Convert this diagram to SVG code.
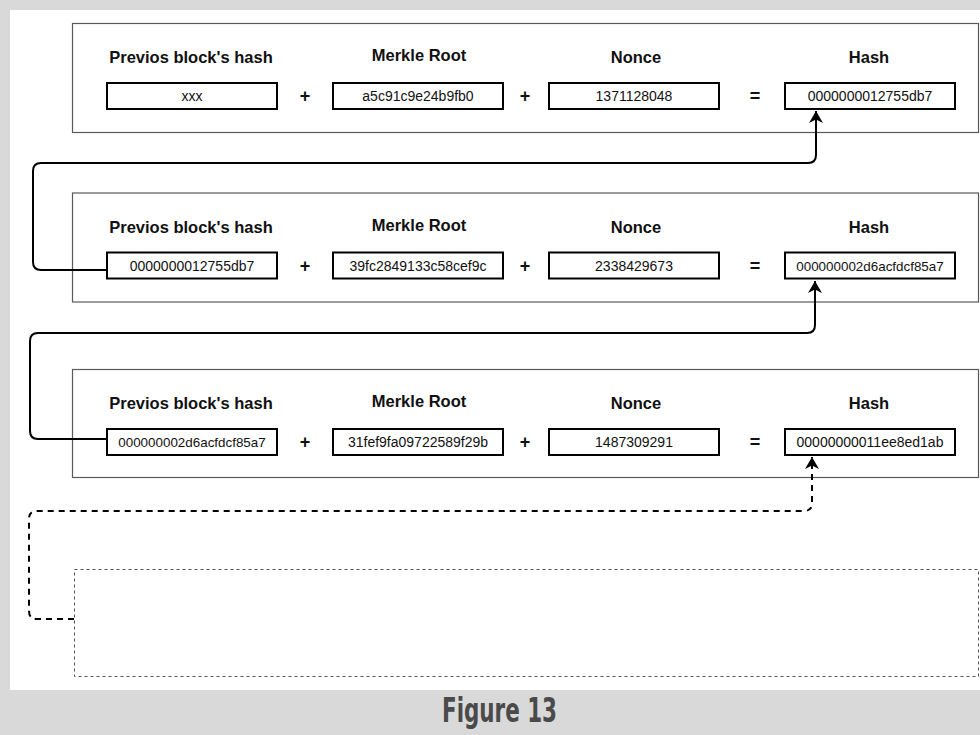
<svg xmlns="http://www.w3.org/2000/svg" width="980" height="735" viewBox="0 0 980 735">
<defs>
<style>
.blk{fill:#fff;stroke:#5a5a5a;stroke-width:1.2}
.box{fill:#fff;stroke:#000;stroke-width:2}
.hd{font-family:"Liberation Sans",Arial,Helvetica,sans-serif;font-weight:bold;font-size:16.5px;fill:#111;text-anchor:middle}
.op{font-family:"Liberation Sans",Arial,Helvetica,sans-serif;font-weight:bold;font-size:18px;fill:#111;text-anchor:middle}
.val{font-family:"Liberation Sans",Arial,Helvetica,sans-serif;font-size:14px;fill:#111;text-anchor:middle}
.sm{font-size:13.4px}
.con{fill:none;stroke:#000;stroke-width:2}
.dash{stroke-dasharray:6 5}
</style>
<marker id="arr" viewBox="0 0 12 14" refX="12" refY="7" markerWidth="12" markerHeight="14" markerUnits="userSpaceOnUse" orient="auto">
<path d="M0,0 L12,7 L0,14 L3.5,7 Z" fill="#000"/>
</marker>
</defs>
<rect x="0" y="0" width="980" height="735" fill="#d9d9d9"/>
<rect x="10" y="10" width="970" height="680" fill="#fff"/>

<g id="block1">
<rect class="blk" x="72.5" y="23.5" width="906" height="109"/>
<text class="hd" x="191" y="63">Previos block's hash</text>
<text class="hd" x="419" y="61">Merkle Root</text>
<text class="hd" x="636" y="63">Nonce</text>
<text class="hd" x="869" y="63">Hash</text>
<rect class="box" x="107" y="83" width="170" height="26"/>
<rect class="box" x="333" y="83" width="170" height="26"/>
<rect class="box" x="549" y="83" width="170" height="26"/>
<rect class="box" x="785" y="83" width="170" height="26"/>
<text class="op" x="305" y="102">+</text>
<text class="op" x="525" y="102">+</text>
<text class="op" x="755" y="102">=</text>
<text class="val" x="192" y="101">xxx</text>
<text class="val" x="418" y="101">a5c91c9e24b9fb0</text>
<text class="val" x="634" y="101">1371128048</text>
<text class="val" x="870" y="101">0000000012755db7</text>
</g>

<g id="block2" transform="translate(0,169.5)">
<rect class="blk" x="72.5" y="23.5" width="906" height="109"/>
<text class="hd" x="191" y="63">Previos block's hash</text>
<text class="hd" x="419" y="61">Merkle Root</text>
<text class="hd" x="636" y="63">Nonce</text>
<text class="hd" x="869" y="63">Hash</text>
<rect class="box" x="107" y="83" width="170" height="26"/>
<rect class="box" x="333" y="83" width="170" height="26"/>
<rect class="box" x="549" y="83" width="170" height="26"/>
<rect class="box" x="785" y="83" width="170" height="26"/>
<text class="op" x="305" y="102">+</text>
<text class="op" x="525" y="102">+</text>
<text class="op" x="755" y="102">=</text>
<text class="val" x="192" y="101">0000000012755db7</text>
<text class="val" x="418" y="101">39fc2849133c58cef9c</text>
<text class="val" x="634" y="101">2338429673</text>
<text class="val sm" x="870" y="101">000000002d6acfdcf85a7</text>
</g>

<g id="block3" transform="translate(0,346)">
<rect class="blk" x="72.5" y="23.5" width="906" height="108"/>
<text class="hd" x="191" y="63">Previos block's hash</text>
<text class="hd" x="419" y="61">Merkle Root</text>
<text class="hd" x="636" y="63">Nonce</text>
<text class="hd" x="869" y="63">Hash</text>
<rect class="box" x="107" y="83" width="170" height="26"/>
<rect class="box" x="333" y="83" width="170" height="26"/>
<rect class="box" x="549" y="83" width="170" height="26"/>
<rect class="box" x="785" y="83" width="170" height="26"/>
<text class="op" x="305" y="102">+</text>
<text class="op" x="525" y="102">+</text>
<text class="op" x="755" y="102">=</text>
<text class="val sm" x="192" y="101">000000002d6acfdcf85a7</text>
<text class="val" x="418" y="101">31fef9fa09722589f29b</text>
<text class="val" x="634" y="101">1487309291</text>
<text class="val" x="870" y="101">00000000011ee8ed1ab</text>
</g>

<g id="block4">
<rect x="74.5" y="569.5" width="904" height="107" fill="#fff" stroke="#555" stroke-width="1" stroke-dasharray="3 3"/>
</g>

<g id="connectors">
<path class="con" d="M107,270 H41 Q33,270 33,262 V171 Q33,163 41,163 H808 Q816,163 816,155 V111" marker-end="url(#arr)"/>
<path class="con" d="M107,439 H38 Q30,439 30,431 V341 Q30,333 38,333 H807 Q815,333 815,325 V281" marker-end="url(#arr)"/>
<path class="con dash" d="M74,619 H37 Q29,619 29,611 V519 Q29,511 37,511 H804 Q812,511 812,503 V457" marker-end="url(#arr)"/>
</g>

<text x="442" y="722" textLength="115" lengthAdjust="spacingAndGlyphs" font-family="'Liberation Sans Narrow','DejaVu Sans Condensed','Liberation Sans',sans-serif" font-weight="bold" font-size="34" fill="#4a4a4a">Figure 13</text>
</svg>
